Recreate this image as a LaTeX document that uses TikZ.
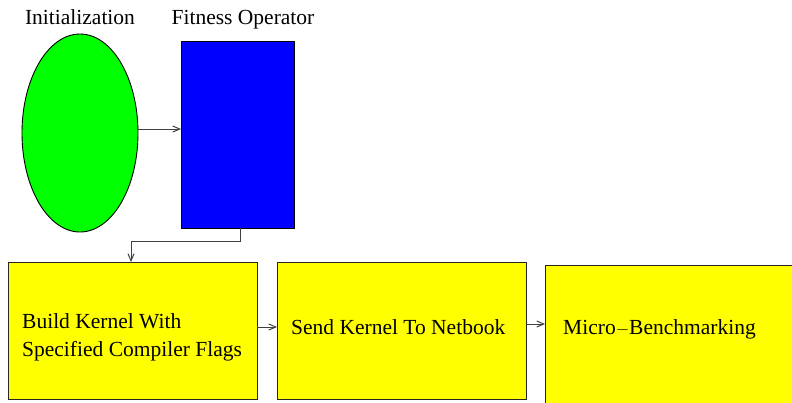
\documentclass[tikz,border=0pt]{standalone}
\usepackage{fontspec}
\setmainfont{Liberation Serif}
\usetikzlibrary{arrows.meta}
\definecolor{figgreen}{RGB}{0,255,0}
\definecolor{figblue}{RGB}{0,0,255}
\definecolor{figyellow}{RGB}{255,255,0}
\begin{document}
\begin{tikzpicture}[x=1pt,y=-1pt,
  every node/.style={font=\fontsize{21.5}{28}\selectfont, inner sep=0pt},
  stagebox/.style={draw=black!85, line width=1pt, fill=figyellow},
  conn/.style={draw=black!75, line width=1pt, -{Straight Barb[length=7pt,width=6pt]}},
  lbl/.style={anchor=base west, align=left}]
\useasboundingbox (0,0) rectangle (792,402);
\clip (0,0) rectangle (792,402);
% top shapes
\path[draw=black, line width=0.9pt, fill=figgreen] (80,133) ellipse [x radius=58, y radius=99];
\coordinate (ell) at (80,133);
\node[draw=black, line width=0.9pt, fill=figblue, minimum width=113pt, minimum height=187pt, anchor=north west] (fit) at (181,41) {};
\node[anchor=base] (initlbl) at (80,24) {Initialization};
\node[anchor=base] (fitlbl) at (243,24) {Fitness Operator};
% bottom boxes
\node[stagebox, minimum width=249pt, minimum height=137pt, anchor=north west] (b1) at (8,262) {};
\node[stagebox, minimum width=249pt, minimum height=137pt, anchor=north west] (b2) at (277,262) {};
\node[stagebox, minimum width=270pt, minimum height=150pt, anchor=north west] (b3) at (545,265) {};
\node[lbl] (t1) at (22,356) {Build Kernel With\\Specified Compiler Flags};
\node[lbl] (t2) at (291,334) {Send Kernel To Netbook};
\node[lbl] (t3) at (563,334) {Micro{\fontsize{16}{16}\selectfont$-$}Benchmarking};
% connectors
\coordinate (e1) at (138,129);
\coordinate (f1) at (181,129);
\draw[conn] (e1) -- (f1);
\coordinate (fb) at (240,228);
\coordinate (b1t) at (131,262);
\draw[conn] (fb) -- (240,241) -- (131,241) -- (b1t);
\coordinate (b1r) at (257,327);
\coordinate (b2l) at (277,327);
\draw[conn] (b1r) -- (b2l);
\coordinate (b2r) at (526,324);
\coordinate (b3l) at (545,324);
\draw[conn] (b2r) -- (b3l);
\end{tikzpicture}
\end{document}
